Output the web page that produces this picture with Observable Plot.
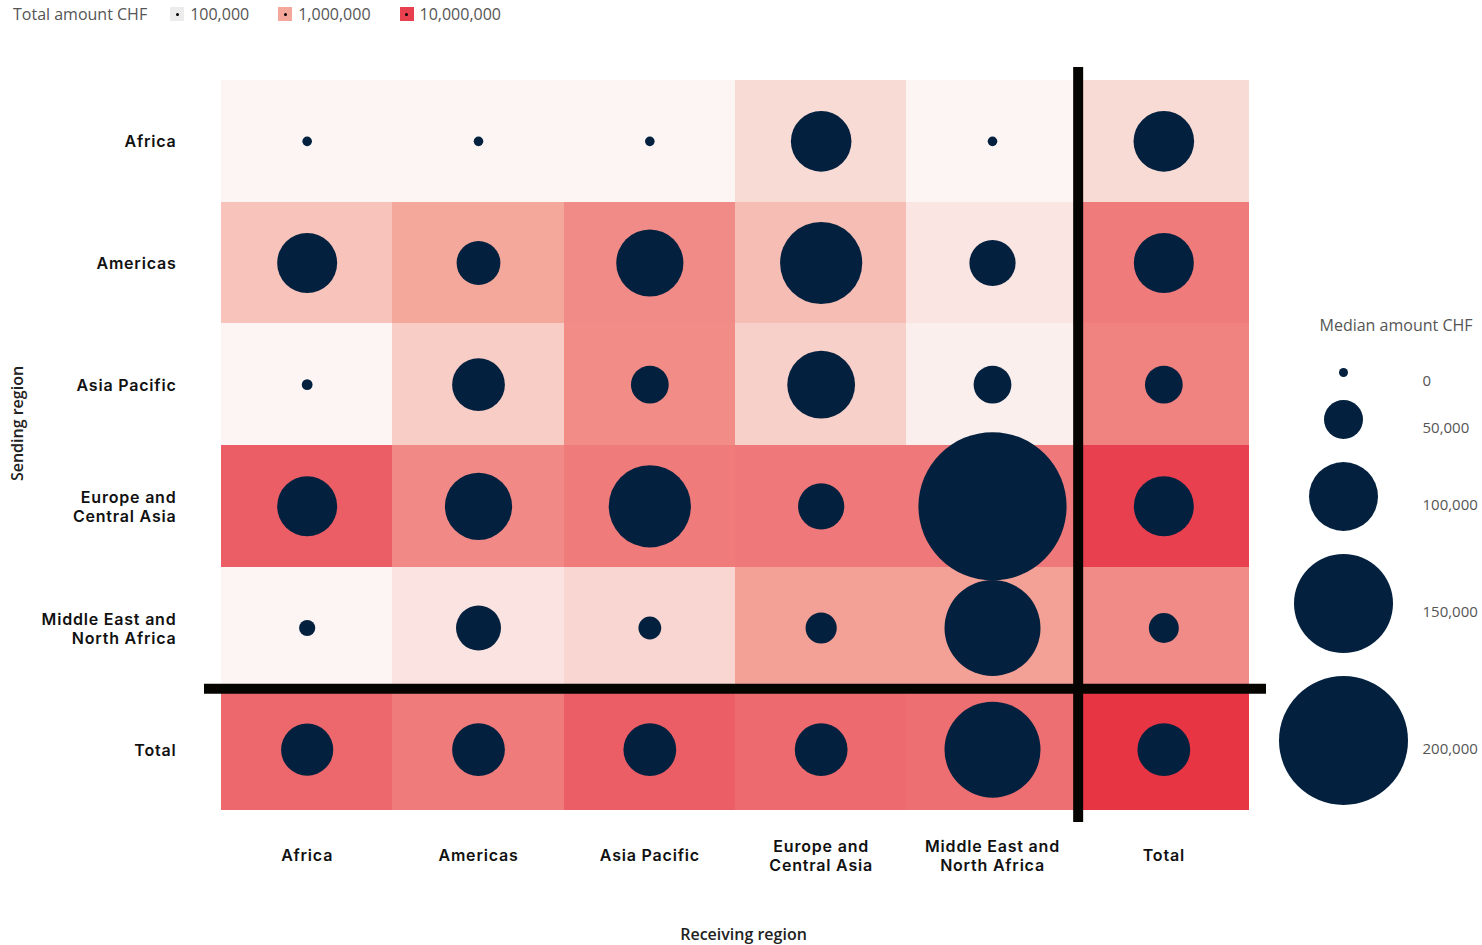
<!DOCTYPE html>
<html><head><meta charset="utf-8">
<script src="https://cdn.jsdelivr.net/npm/d3@7"></script>
<script src="https://cdn.jsdelivr.net/npm/@observablehq/plot@0.6"></script>
<style>
body{margin:0;background:#fff;font-family:"Open Sans",sans-serif;}
#wrap{position:relative;width:1482px;height:945px;overflow:hidden;background:#fff}
#legend{height:28px;display:flex;align-items:center;font-size:16px;color:#555;padding-left:13px;box-sizing:border-box}
#legend .title{margin-right:23px}
#legend .item{display:flex;align-items:center;margin-right:29px}
#legend .sw{width:14px;height:14px;position:relative;margin-right:6px}
#legend .sw::after{content:"";position:absolute;left:5.5px;top:5.5px;width:3px;height:3px;border-radius:50%;background:#000}
#size{position:absolute;left:1278px;top:300px}
#chart g[aria-label$="tick label"] text{letter-spacing:0.8px}
</style></head><body>
<div id="wrap"><div id="legend"></div><div id="chart"></div><div id="size"></div></div>
<script>
const regions = ["Africa","Americas","Asia Pacific","Europe and Central Asia","Middle East and North Africa","Total"];
const regionLabels = ["Africa","Americas","Asia Pacific","Europe and\nCentral Asia","Middle East and\nNorth Africa","Total"];

// Total amount CHF, one array per sending region, in receiving-region order
const totalAfrica   = [100000, 100000, 100000, 220000, 100000, 220000];
const totalAmericas = [450000, 1000000, 1900000, 530000, 160000, 2700000];
const totalAsiaPac  = [100000, 330000, 1850000, 300000, 120000, 2300000];
const totalEurope   = [5100000, 1950000, 2700000, 2800000, 2800000, 10000000];
const totalMENA     = [100000, 170000, 250000, 1200000, 1200000, 1900000];
const totalTotal    = [4100000, 2700000, 5100000, 3900000, 3500000, 16000000];

// Median amount CHF
const medAfrica   = [1000, 1000, 1000, 86000, 1000, 86000];
const medAmericas = [85000, 58000, 97000, 122000, 62000, 85000];
const medAsiaPac  = [3000, 73000, 48000, 98000, 48000, 48000];
const medEurope   = [85000, 97000, 122000, 62000, 232000, 85000];
const medMENA     = [12000, 60000, 23000, 37000, 145000, 35000];
const medTotal    = [72000, 73000, 73000, 73000, 145000, 73000];

const colorLegendValues = [100000, 1000000, 10000000];
const sizeLegendValues = [0, 50000, 100000, 150000, 200000];

const totals = [totalAfrica, totalAmericas, totalAsiaPac, totalEurope, totalMENA, totalTotal];
const medians = [medAfrica, medAmericas, medAsiaPac, medEurope, medMENA, medTotal];
const data = [];
regions.forEach((s, i) => regions.forEach((r, j) => data.push({sending: s, receiving: r, total: totals[i][j], median: medians[i][j]})));
const labelOf = new Map(regions.map((r, i) => [r, regionLabels[i]]));

const W = 1482, H = 917, ML = 221, MR = 233, MT = 52, MB = 135;
const bwX = (W - ML - MR) / regions.length;
const bwY = (H - MT - MB) / regions.length;
const navy = "#03213f";
const lineColor = "#050400";
const tickFont = "Inter, 'Open Sans', sans-serif";
const rOpts = {type: "linear", domain: [0, 200000], range: [4.5, 64.5]};
const colorOpts = {type: "log", domain: [1e5, 1e6, 1e7, 2e7], range: ["#fcf5f4", "#f4a89c", "#e8404f", "#e7303f"], interpolate: "rgb", clamp: true};

const chart = Plot.plot({
  width: W, height: H,
  marginLeft: ML, marginRight: MR, marginTop: MT, marginBottom: MB,
  style: {fontFamily: "'Open Sans', sans-serif", background: "white", overflow: "visible"},
  x: {domain: regions, padding: 0, round: false, axis: null},
  y: {domain: regions, padding: 0, round: false, axis: null},
  color: colorOpts,
  r: rOpts,
  marks: [
    Plot.cell(data, {x: "receiving", y: "sending", fill: "total", inset: 0, shapeRendering: "crispEdges"}),
    Plot.dot(data, {x: "receiving", y: "sending", r: "median", fill: navy, stroke: null}),
    Plot.ruleY(["Total"], {y: d => d, dy: -bwY / 2, stroke: lineColor, strokeWidth: 10, insetLeft: -17, insetRight: -17}),
    Plot.ruleX(["Total"], {x: d => d, dx: -bwX / 2, stroke: lineColor, strokeWidth: 10, insetTop: -13, insetBottom: -12}),
    Plot.axisY({tickSize: 0, tickPadding: 45, tickFormat: d => labelOf.get(d), label: null,
      fontFamily: tickFont, fontSize: 16, fontWeight: 600, fill: "#111", lineHeight: 1.2}),
    Plot.axisX({tickSize: 0, tickPadding: 45, tickFormat: d => labelOf.get(d), label: null, lineAnchor: "middle",
      fontFamily: tickFont, fontSize: 16, fontWeight: 600, fill: "#111", lineHeight: 1.15}),
    Plot.text(["Sending region"], {text: d => d, frameAnchor: "left", textAnchor: "middle", dx: -204, dy: -22, rotate: -90,
      fontSize: 16, fontWeight: 600, fill: "#222"}),
    Plot.text(["Receiving region"], {text: d => d, frameAnchor: "bottom", dx: 8, dy: 129,
      fontSize: 16, fontWeight: 600, fill: "#222"})
  ]
});
document.getElementById("chart").append(chart);

// top colour legend
const legendSwatch = ["#ececec", "#f4a89c", "#e8404f"];
const fmt = d3.format(",");
const leg = document.getElementById("legend");
leg.innerHTML = '<span class="title">Total amount CHF</span>' + colorLegendValues.map((v, i) =>
  `<span class="item"><span class="sw" style="background:${legendSwatch[i]}"></span>${fmt(v)}</span>`).join("");

// size legend
const rs = d3.scaleLinear().domain(rOpts.domain).range(rOpts.range);
const gap = 23;
const ys = [];
sizeLegendValues.forEach((v, i) => {
  ys.push(i === 0 ? 72 : ys[i - 1] + rs(sizeLegendValues[i - 1]) + rs(v) + gap);
});
const sizeLeg = Plot.plot({
  width: 204, height: 520, margin: 0,
  style: {fontFamily: "'Open Sans', sans-serif", background: "transparent", overflow: "visible"},
  x: {type: "identity", axis: null}, y: {type: "identity", axis: null},
  r: rOpts,
  marks: [
    Plot.text(["Median amount CHF"], {x: 41, y: 25, text: d => d, textAnchor: "start", fontSize: 16, fill: "#555"}),
    Plot.dot(sizeLegendValues, {x: 65, y: (d, i) => ys[i], r: d => d, fill: navy, stroke: null}),
    Plot.text(sizeLegendValues, {x: 144, y: (d, i) => ys[i], dy: 9, text: d => fmt(d), textAnchor: "start", fontSize: 15, fill: "#555"})
  ]
});
document.getElementById("size").append(sizeLeg);
</script>
</body></html>
